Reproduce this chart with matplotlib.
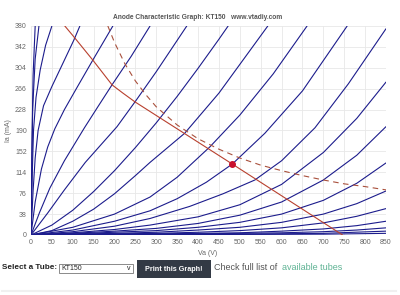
import matplotlib.pyplot as plt
from matplotlib.patches import Rectangle

# --------------------------------
# Data
# --------------------------------
x_ticks = list(range(0, 851, 50))
y_ticks = [0, 38, 76, 114, 152, 190, 228, 266, 304, 342, 380]

# anode curves, one (Va list, Ia list) pair per grid voltage, from the most positive down
curves = [
    ([0, 2, 5, 10], [0, 150, 290, 380]),
    ([0, 2, 4, 10, 19], [0, 120, 230, 320, 380]),
    ([0, 3, 6, 12, 22, 35, 50], [0, 110, 190, 250, 300, 345, 380]),
    ([0, 5, 10, 17, 30, 50, 75, 103, 117], [0, 80, 140, 190, 235, 270, 310, 355, 380]),
    ([0, 10, 25, 40, 57, 80, 110, 148, 196], [0, 60, 120, 160, 193, 228, 268, 318, 380]),
    ([0, 20, 45, 80, 128, 160, 194, 240, 285], [0, 40, 85, 135, 195, 233, 273, 325, 380]),
    ([0, 40, 80, 130, 206, 249, 300, 373], [0, 40, 82, 132, 197, 242, 297, 380]),
    ([0, 50, 100, 150, 200, 250, 300, 350, 400, 450, 472], [0, 18, 45, 79, 117, 159, 204, 252, 303, 356, 380]),
    ([0, 50, 100, 150, 200, 250, 285, 368, 450, 567], [0, 8, 25, 47, 75, 108, 132, 185, 258, 380]),
    ([0, 100, 200, 285, 350, 428, 500, 580, 661], [0, 14, 38, 69, 105, 160, 218, 293, 380]),
    ([0, 100, 200, 285, 350, 420, 482, 560, 650, 757], [0, 9, 25, 44, 66, 96, 129, 185, 262, 380]),
    ([0, 100, 200, 285, 380, 460, 536, 600, 680, 760, 850], [0, 6, 16, 30, 52, 75, 100, 135, 195, 275, 375]),
    ([0, 100, 200, 285, 400, 500, 600, 700, 780, 850], [0, 4, 10, 18, 33, 55, 92, 150, 212, 278]),
    ([0, 100, 200, 300, 400, 500, 600, 700, 780, 850], [0, 3, 7, 12, 21, 36, 60, 100, 145, 197]),
    ([0, 100, 200, 300, 400, 500, 600, 700, 780, 850], [0, 2, 5, 8, 14, 23, 38, 63, 94, 131]),
    ([0, 200, 300, 400, 500, 600, 700, 780, 850], [0, 3, 5, 9, 14, 23, 38, 57, 80]),
    ([0, 200, 300, 400, 500, 600, 700, 780, 850], [0, 2, 3, 5, 8, 13, 22, 34, 48]),
    ([0, 300, 500, 600, 700, 780, 850], [0, 2, 4, 7, 11, 17, 25]),
    ([0, 400, 600, 700, 780, 850], [0, 2, 4, 6, 9, 13]),
    ([0, 500, 700, 850], [0, 1.5, 3, 7]),
    ([0, 700, 850], [0, 1.5, 3]),
]

# load line
load_va = [81, 103, 148, 194, 220, 249, 482, 746]
load_ia = [380, 360, 318, 273, 258, 242, 129, 0]

# max dissipation curve
diss_va = [184, 200, 225, 250, 275, 300, 350, 400, 450, 500, 550, 600, 650, 700, 750, 800, 850]
diss_ia = [380, 350, 311, 280, 255, 233, 200, 175, 156, 140, 127, 117, 108, 100, 93, 88, 82]

# operating point
op_va = [482]
op_ia = [129]

# --------------------------------
# Figure
# --------------------------------
plt.rcParams['font.family'] = ['Liberation Sans', 'DejaVu Sans']
fig = plt.figure(figsize=(4, 2.95), dpi=100)
fig.patch.set_facecolor('white')
ax = fig.add_axes([0.0775, 0.2034, 0.8875, 0.7085])

for va, ia in curves:
    ax.plot(va, ia, color='#1c1c8c', lw=0.8, solid_capstyle='round', zorder=2)

ax.plot(load_va, load_ia, color='#b8402e', lw=0.8, zorder=3)
ax.plot(diss_va, diss_ia, color='#a9503c', lw=0.8, ls=(0, (5, 4)), zorder=3)
ax.plot(op_va, op_ia, 'o', color='#c8102e', ms=4, zorder=4)

ax.set_xlim(0, 850)
ax.set_ylim(0, 380)
ax.set_xticks(x_ticks)
ax.set_yticks(y_ticks)
ax.tick_params(length=0, labelsize=5, colors='#666666', pad=3)
ax.grid(True, color='#e8e8e8', lw=0.6)
ax.set_axisbelow(True)
for s in ax.spines.values():
    s.set_visible(False)

fig.text(0.02, 0.558, 'Ia (mA)', rotation=90, ha='center', va='center', fontsize=5, color='#666666')
fig.text(0.52, 0.142, 'Va (V)', ha='center', va='center', fontsize=5, color='#666666')
fig.text(0.494, 0.942, 'Anode Characteristic Graph: KT150   www.vtadiy.com',
         ha='center', va='center', fontsize=4.8, color='#555555', fontweight='bold')

# --------------------------------
# Page controls under the chart
# --------------------------------
fig.text(0.005, 0.092, 'Select a Tube:', ha='left', va='center', fontsize=5.9,
         fontweight='bold', color='#222222')
fig.patches.append(Rectangle((0.1475, 0.0746), 0.185, 0.0305, transform=fig.transFigure,
                             facecolor='white', edgecolor='#777777', lw=0.6))
fig.text(0.153, 0.09, 'KT150', ha='left', va='center', fontsize=5, color='#222222')
fig.text(0.322, 0.09, 'v', ha='center', va='center', fontsize=5, color='#222222')
fig.patches.append(Rectangle((0.3425, 0.0576), 0.185, 0.061, transform=fig.transFigure,
                             facecolor='#333a45', edgecolor='none'))
fig.text(0.435, 0.088, 'Print this Graph!', ha='center', va='center', fontsize=5.2,
         fontweight='bold', color='white')
fig.text(0.535, 0.092, 'Check full list of', ha='left', va='center', fontsize=6.5, color='#555555')
fig.text(0.705, 0.092, 'available tubes', ha='left', va='center', fontsize=6.5, color='#5fb394')
fig.lines.append(plt.Line2D([0.005, 0.99], [0.012, 0.012], transform=fig.transFigure,
                            color='#f0f0f0', lw=1.5))

fig.savefig('out.png', dpi=100)
